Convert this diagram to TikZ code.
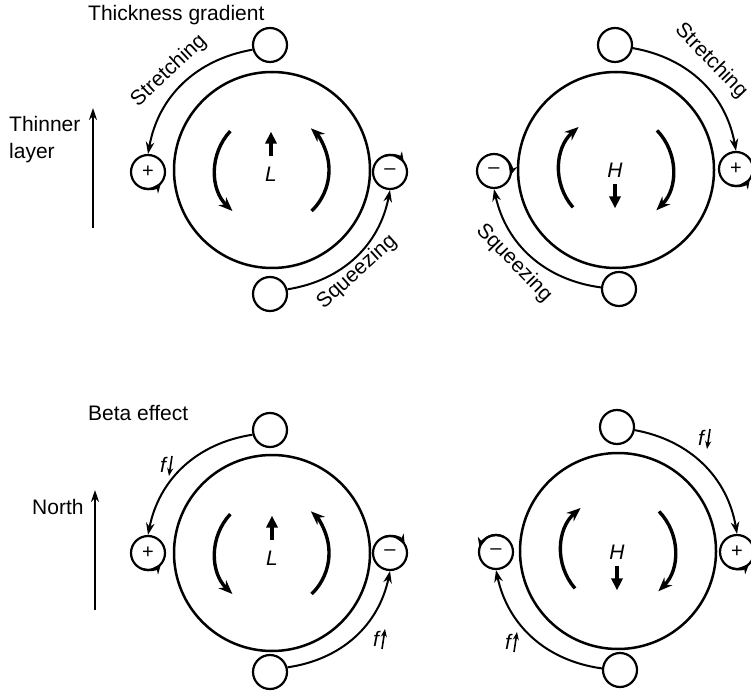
\documentclass[tikz,border=0pt]{standalone}
\usepackage{fontspec}
\setmainfont{Liberation Sans}
\usetikzlibrary{arrows.meta}
\begin{document}
\begin{tikzpicture}[
  x=1pt,y=1pt,
  lbl/.style={font=\fontsize{21}{24}\selectfont, inner sep=0pt},
  ital/.style={font=\fontsize{21}{24}\selectfont\itshape, inner sep=0pt},
  big/.style={circle, draw, line width=2.5pt, minimum size=196pt, inner sep=0pt},
  small/.style={circle, draw, line width=2.2pt, minimum size=34pt, inner sep=0pt, font=\fontsize{20}{20}\selectfont},
  flow/.style={line width=2pt, -{Stealth[length=12pt,width=8.5pt]}},
  swirl/.style={line width=3.4pt, -{Stealth[length=14pt,width=11pt]}},
  spin/.style={line width=2.2pt, -{Stealth[length=10pt,width=9pt]}},
  drift/.style={line width=3.6pt, -{Triangle[length=12pt,width=11pt]}},
  axis/.style={line width=2.2pt, -{Stealth[length=12pt,width=8pt]}},
  fa/.style={line width=1.6pt, -{Stealth[length=8pt,width=6pt]}},
]
\useasboundingbox (0,0) rectangle (751,691);

% ---------------- top left ----------------
\node[lbl, anchor=west] (ttl1) at (88,676) {Thickness gradient};
\node[lbl, anchor=base west] (thin) at (9,559) {Thinner};
\node[lbl, anchor=base west] (layer) at (9,532) {layer};
\coordinate (a1s) at (93,463);
\coordinate (a1e) at (93,583);
\draw[axis] (a1s) -- (a1e);

\node[big] (tlC) at (272,521) {};
\node[small] (tlT) at (270,646) {};
\node[small] (tlP) at (148,519) {+};
\node[small] (tlM) at (390,519) {–};
\node[small] (tlB) at (270,397) {};
\node[ital] (tlL) at (271,517) {L};
\draw[drift] ([yshift=11pt]tlL.north) -- ++(0,24);
\draw[swirl] ([shift={(137:57)}]tlC.center) arc[start angle=137, end angle=226, radius=57];
\draw[swirl] ([shift={(-46:57)}]tlC.center) arc[start angle=-46, end angle=47, radius=57];
\draw[flow] (tlT.195) to[bend right=35] (tlP.north);
\draw[flow] (tlB.15) to[bend right=35] (tlM.south);
\node[lbl, rotate=43] (tlS1) at (169,620) {Stretching};
\node[lbl, rotate=42] (tlS2) at (357,419) {Squeezing};
\draw[spin] ([shift={(-110:17)}]tlP.center) arc[start angle=-110, end angle=-40, radius=17];
\draw[spin] ([shift={(110:17)}]tlM.center) arc[start angle=110, end angle=35, radius=17];

% ---------------- top right ----------------
\node[big] (trC) at (616,521) {};
\node[small] (trT) at (615,646) {};
\node[small] (trM) at (494,520) {–};
\node[small] (trP) at (736,522) {+};
\node[small] (trB) at (619,402) {};
\node[ital] (trH) at (615,521) {H};
\draw[drift] ([yshift=-7pt]trH.south) -- ++(0,-24);
\draw[swirl] ([shift={(221:57)}]trC.center) arc[start angle=221, end angle=131, radius=57];
\draw[swirl] ([shift={(44:57)}]trC.center) arc[start angle=44, end angle=-45, radius=57];
\draw[flow] (trT.-10) to[bend left=35] (trP.north);
\draw[flow] (trB.175) to[bend left=35] (trM.south);
\node[lbl, rotate=-46] (trS1) at (711,630) {Stretching};
\node[lbl, rotate=-46] (trS2) at (514,428) {Squeezing};
\draw[spin] ([shift={(60:17)}]trM.center) arc[start angle=60, end angle=-15, radius=17];
\draw[spin] ([shift={(-110:17)}]trP.center) arc[start angle=-110, end angle=-35, radius=17];

% ---------------- bottom left ----------------
\node[lbl, anchor=west] (ttl2) at (88,278) {Beta effect};
\node[lbl, anchor=west] (north) at (32,184) {North};
\coordinate (a2s) at (95,81);
\coordinate (a2e) at (95,201);
\draw[axis] (a2s) -- (a2e);

\node[big] (blC) at (272,138) {};
\node[small] (blT) at (270,261) {};
\node[small] (blP) at (148,138) {+};
\node[small] (blM) at (390,138) {–};
\node[small] (blB) at (270,19) {};
\node[ital] (blL) at (272,133) {L};
\draw[drift] ([yshift=11pt]blL.north) -- ++(0,24);
\draw[swirl] ([shift={(137:57)}]blC.center) arc[start angle=137, end angle=226, radius=57];
\draw[swirl] ([shift={(-46:57)}]blC.center) arc[start angle=-46, end angle=47, radius=57];
\draw[flow] (blT.195) to[bend right=35] (blP.north);
\draw[flow] (blB.15) to[bend right=35] (blM.south);
\node[ital] (blF1) at (163,226) {f};
\draw[fa] ([shift={(9,9)}]blF1.center) -- ([shift={(6,-11)}]blF1.center);
\node[ital] (blF2) at (376,52) {f};
\draw[fa] ([shift={(6,-10)}]blF2.center) -- ([shift={(9,10)}]blF2.center);
\draw[spin] ([shift={(-110:17)}]blP.center) arc[start angle=-110, end angle=-40, radius=17];
\draw[spin] ([shift={(110:17)}]blM.center) arc[start angle=110, end angle=30, radius=17];

% ---------------- bottom right ----------------
\node[big] (brC) at (618,140) {};
\node[small] (brT) at (617,264) {};
\node[small] (brM) at (496,139) {–};
\node[small] (brP) at (737,139) {+};
\node[small] (brB) at (620,21) {};
\node[ital] (brH) at (617,139) {H};
\draw[drift] ([yshift=-7pt]brH.south) -- ++(0,-24);
\draw[swirl] ([shift={(221:57)}]brC.center) arc[start angle=221, end angle=131, radius=57];
\draw[swirl] ([shift={(44:57)}]brC.center) arc[start angle=44, end angle=-45, radius=57];
\draw[flow] (brT.-10) to[bend left=35] (brP.north);
\draw[flow] (brB.175) to[bend left=35] (brM.south);
\node[ital] (brF1) at (701,253) {f};
\draw[fa] ([shift={(9,9)}]brF1.center) -- ([shift={(6,-11)}]brF1.center);
\node[ital] (brF2) at (508,49) {f};
\draw[fa] ([shift={(6,-10)}]brF2.center) -- ([shift={(9,10)}]brF2.center);
\draw[spin] ([shift={(60:17)}]brM.center) arc[start angle=60, end angle=165, radius=17];
\draw[spin] ([shift={(-120:17)}]brP.center) arc[start angle=-120, end angle=-45, radius=17];
\end{tikzpicture}
\end{document}
